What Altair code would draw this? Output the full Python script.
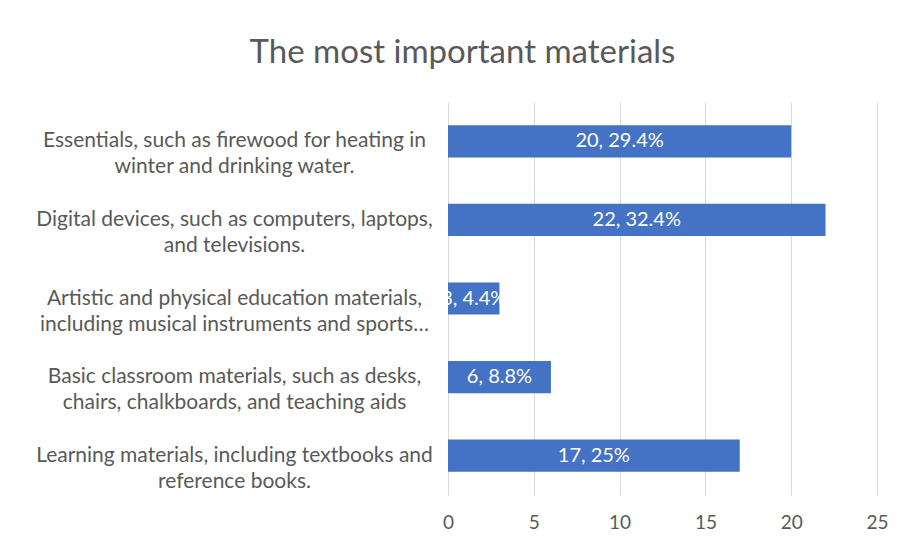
import altair as alt
import pandas as pd

line1 = [
    "Essentials, such as firewood for heating in",
    "Digital devices, such as computers, laptops,",
    "Artistic and physical education materials,",
    "Basic classroom materials, such as desks,",
    "Learning materials, including textbooks and",
]
line2 = [
    "winter and drinking water.",
    "and televisions.",
    "including musical instruments and sports…",
    "chairs, chalkboards, and teaching aids",
    "reference books.",
]
counts = [20, 22, 3, 6, 17]
percents = ["29.4%", "32.4%", "4.4%", "8.8%", "25%"]
x_ticks = [0, 5, 10, 15, 20, 25]

categories = [a + "|" + b for a, b in zip(line1, line2)]
df = pd.DataFrame({
    "category": categories,
    "count": counts,
    "label": [f"{c}, {p}" for c, p in zip(counts, percents)],
})

FONT = "Lato"
GREY = "#595959"

base = alt.Chart(df).encode(
    y=alt.Y(
        "category:N",
        sort=categories,
        title=None,
        scale=alt.Scale(paddingInner=0.59, paddingOuter=0.295),
        axis=alt.Axis(
            labelExpr="split(datum.label, '|')",
            labelAlign="center",
            labelPadding=214,
            labelLimit=0,
            labelFont=FONT,
            labelFontSize=21,
            labelLineHeight=26,
            labelColor=GREY,
            ticks=False,
            domain=False,
        ),
    ),
)

bars = base.mark_bar(color="#4472C4").encode(
    x=alt.X(
        "count:Q",
        title=None,
        scale=alt.Scale(domain=[0, 25], nice=False),
        axis=alt.Axis(
            values=x_ticks,
            grid=True,
            gridColor="#d9d9d9",
            gridWidth=1,
            domain=False,
            ticks=False,
            labelFlush=False,
            labelPadding=18,
            labelFont=FONT,
            labelFontSize=19,
            labelColor=GREY,
        ),
    )
)

text = base.mark_text(
    color="white", font=FONT, fontSize=20, align="center", baseline="middle", clip=True
).encode(
    x=alt.X("mid:Q"),
    text="label:N",
).transform_calculate(mid="datum.count / 2")

chart = (bars + text).properties(
    width=429,
    height=393,
    background="white",
    title=alt.TitleParams(
        "The most important materials",
        font=FONT,
        fontSize=33,
        fontWeight="normal",
        color=GREY,
        offset=32,
        dx=-200,
    ),
    padding={"left": 440, "top": 94, "right": 19, "bottom": 47},
    autosize=alt.AutoSizeParams(type="none"),
).configure_view(stroke=None)

chart.save("out.html", embed_options={"renderer": "svg", "actions": False})
